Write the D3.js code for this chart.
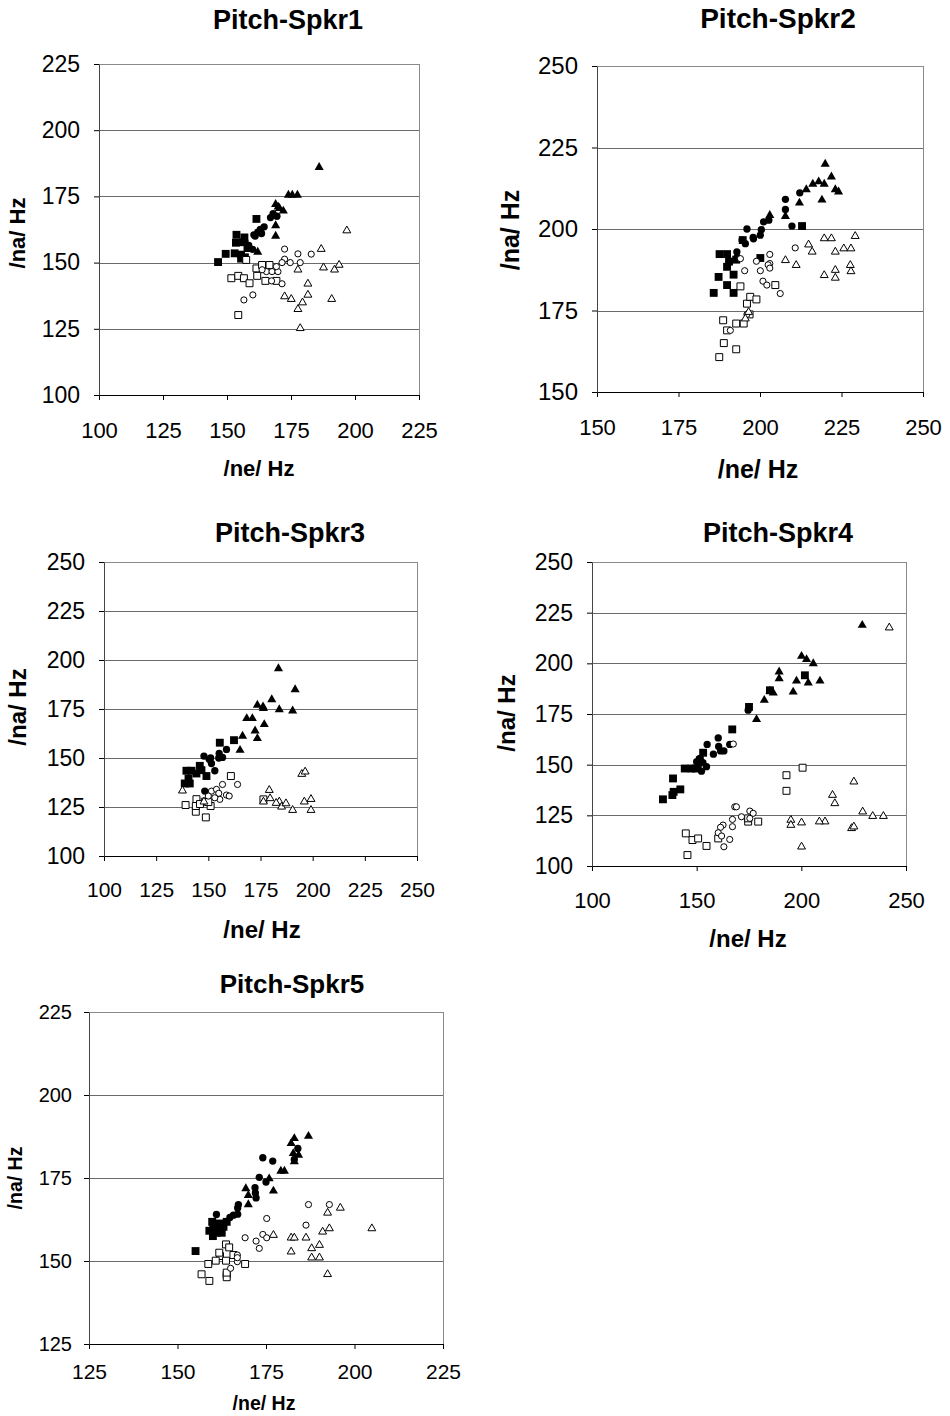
<!DOCTYPE html>
<html><head><meta charset="utf-8">
<script src="https://cdn.jsdelivr.net/npm/d3@7"></script>
<style>
body{margin:0;background:#fff}
svg{display:block}
text{font-family:"Liberation Sans",Arial,sans-serif;fill:#000}
</style>
</head><body>
<svg id="c" width="950" height="1416"></svg>
<script>
// ---------- text ----------
const titles = ["Pitch-Spkr1","Pitch-Spkr2","Pitch-Spkr3","Pitch-Spkr4","Pitch-Spkr5"];
const xTitle = "/ne/ Hz";
const yTitle = "/na/ Hz";

// ---------- axis domains & ticks ----------
const xTicks1 = [100,125,150,175,200,225], yTicks1 = [100,125,150,175,200,225];
const xTicks2 = [150,175,200,225,250],     yTicks2 = [150,175,200,225,250];
const xTicks3 = [100,125,150,175,200,225,250], yTicks3 = [100,125,150,175,200,225,250];
const xTicks4 = [100,150,200,250],         yTicks4 = [100,125,150,175,200,225,250];
const xTicks5 = [125,150,175,200,225],     yTicks5 = [125,150,175,200,225];

// ---------- data: [ne Hz, na Hz] ----------
// series order: filled square, filled circle, filled triangle, open square, open circle, open triangle
const s1FSq = [[146.5,150.2],[149.5,153.3],[153,153.5],[153.5,157.5],[153.7,160.5],[155.5,153],[156.3,157.7],[156.8,159.5],[155.5,151.5],[158,155.5],[161.5,166.5],[157,152]];
const s1FCi = [[158.5,156.5],[160,155],[160.5,160.5],[162,161.5],[163,162.5],[164.5,163.5],[163.5,161],[167,167],[168,168.5],[169.5,167.5],[157,158],[161,160]];
const s1FTr = [[162,154],[169,160],[169,164],[169,172],[170.5,170.5],[172,169.5],[174,175.5],[175.5,175.5],[177.5,175.5],[186,186],[170,171]];
const s1OSq = [[151.7,144.1],[154.4,145],[156.6,144.1],[158.8,142.2],[157.5,151],[161.5,147.8],[161.8,145],[163.7,149.1],[166.6,149.1],[165,143.1],[169.3,143.1],[154.4,130.2]];
const s1OCi = [[156.6,135.9],[160.1,137.8],[172.5,155.1],[172.5,151.3],[174.7,150],[177.7,153.3],[178.6,150],[182.9,153.2],[171.5,150],[165.4,146.6],[167.6,146.6],[169.9,146.6],[167.4,143.1],[169.3,148.5],[171.5,142],[163.7,147.3]];
const s1OTr = [[186.8,155.1],[196.8,162.1],[187.7,148.1],[192,147.3],[193.8,149.1],[177.7,147.3],[181.6,142],[181.6,137.8],[172.5,137.2],[175.1,136.2],[179.5,134.9],[177.7,132.4],[190.9,136.2],[178.6,125.2]];

const s2FSq = [[185.8,180.4],[187.3,185.3],[187.6,192.3],[189.9,192.3],[189.9,182.8],[191.9,180.4],[191.9,186],[189.9,188.4],[192.7,190.6],[194.7,196.6],[200.1,191.1],[212.9,200.9],[190.5,190]];
const s2FCi = [[192.9,193],[196,200],[197.9,197.4],[200.1,198.1],[200.4,199.8],[201.1,202.2],[202.7,202.7],[207.8,209.1],[207.8,206],[209.8,200.9],[212.2,211.1],[194.5,196.6],[195.5,195.5],[198,197]];
const s2FTr = [[207.8,203.9],[203,204.2],[212.1,208],[214.2,212.1],[216.2,213.8],[218,214.5],[220,219.9],[219.7,213.8],[219,208.9],[221.9,216],[224.1,211.4],[223.1,212.1],[193,192]];
const s2OSq = [[187.5,160.7],[188.9,165],[188.7,172],[189.9,168.9],[192.7,163.1],[192.7,171],[195,171],[194,182.4],[196,177.1],[197,179.2],[198.9,178.4],[196.8,173.8],[204.7,182.8]];
const s2OCi = [[194,190.9],[195.3,187.2],[198.9,190.1],[200.1,187.2],[200.9,184],[202.1,182.8],[203,192.2],[203,189.4],[202.5,189],[203,188],[206.2,180.2],[210.8,194.2],[190.9,168.9],[196,173.8]];
const s2OTr = [[207.8,190.4],[211.1,188.9],[214.9,195.2],[216,193],[219.7,197.1],[221.9,197.1],[219.7,185.8],[223.1,187.4],[223.1,185],[223.1,193],[225.7,194],[227.9,194],[229.2,197.8],[227.7,188.9],[227.9,187],[196.5,174.5],[195.5,172.5]];

const s3FSq = [[155.5,157.8],[162.3,159.1],[139.5,143.5],[141.9,143.5],[138.7,137],[141.1,137],[145.9,146],[146.7,143.8],[149.1,140.8],[144.3,142.1],[140.5,139.5]];
const s3FCi = [[147.9,151],[151.1,150.1],[151.5,147.2],[153.1,143.5],[155.2,152.3],[156.8,150.3],[158.7,154.4],[148.3,133.1],[150.4,149.3],[155,150]];
const s3FTr = [[183.6,195.6],[191.6,184.9],[180.4,179.8],[173.5,177],[176.4,175.3],[184,174.7],[190.4,174.1],[168.4,170.2],[171.1,170.2],[172.4,163.9],[176.8,167.1],[173.5,160],[166.4,161.2],[165.2,154],[176.2,176.2]];
const s3OSq = [[139.1,126],[144.3,129],[144,122.6],[144,125.5],[148.8,119.7],[148.3,127.7],[151.1,125.5],[160.8,140.8],[176.4,128.9],[146,126.5],[150,127.5]];
const s3OCi = [[151.5,133.1],[153.9,134],[156.8,136.5],[164,136.5],[155.5,128.9],[158.7,131.1],[160,130.6],[155,132],[153.1,129.7],[150,130.6]];
const s3OTr = [[137.6,133.3],[179.2,133.6],[176.4,127.7],[179.6,129.4],[184,127.7],[185.1,125.1],[187.2,126.8],[190.4,123.4],[194.8,141.8],[196.4,143],[196,127.7],[199.2,129],[199.2,123.4],[182.5,127],[147.9,127.7]];

const s4FSq = [[133.9,132.9],[138.4,135],[138.7,143.2],[139,136.6],[142.2,137.8],[144.3,148.1],[147.5,148.1],[153.1,155.9],[167,167.4],[175,178.5],[185,186.7],[201.7,194.1],[149.5,148.1],[151.5,152.2]];
const s4FCi = [[155,160],[160.3,163.2],[158,155.2],[161.4,156.8],[163,156.8],[165.8,160],[151.5,153.1],[150.7,149.3],[152.3,146.8],[154.7,149],[174.6,176.9],[153,151],[160.5,159],[150,151.5]];
const s4FTr = [[229.1,218.8],[200.1,203.5],[202.5,201.9],[205.7,199.9],[189.4,195.8],[189.4,192.5],[197.7,191.3],[203.3,190.4],[208.9,191.3],[196.1,185.9],[186.6,185.4],[182.3,181.8],[178.6,172.3],[185,186.4]];
const s4OSq = [[144.8,116.1],[148,112.8],[150.7,113.6],[154.7,109.9],[145.6,105.4],[160.3,113.6],[174.6,121.9],[179.4,121.9],[192.9,144.8],[192.9,137.1],[200.6,148.5],[174.6,123.5]];
const s4OCi = [[168.2,129.2],[169,129.2],[171.4,124.3],[175.4,127.1],[177,126],[167.1,123],[167.1,119.4],[162.6,120.2],[161.4,119.1],[160.3,116.4],[161.9,114.8],[165.8,113.1],[163,109.5],[175.4,123.5],[167.5,160.2]];
const s4OTr = [[242,217.6],[225.1,141.6],[214.9,135],[216,130.9],[229.3,126.8],[234.1,124.6],[239.2,124.6],[211.3,121.9],[208.6,121.9],[200.1,121.4],[195,122.7],[195,120.2],[200.1,109.5],[224,118.6],[225.1,119.4]];

const s5FSq = [[155.1,153],[159,159.1],[160,157.5],[160.1,160.8],[161,160.3],[162,161.3],[163,160.3],[163.9,161.8],[159.8,161.8],[161,158.5],[162.5,158.5]];
const s5FCi = [[161,164],[164.8,163.1],[167,164.1],[167.2,167],[171.9,172.1],[172.2,169],[173.1,175.2],[174.1,181.1],[175,173.8],[176.9,180.1],[184,183.9],[183,180.6],[165.8,163.8],[172,170.5],[167,166]];
const s5FTr = [[169.3,171.8],[170,169.8],[170,167],[175.9,174.8],[177.1,171.1],[179.2,177.1],[180.2,177.1],[183,186.9],[183,179.9],[182.7,182.4],[182.1,185.4],[187,187.6],[184.2,181.9]];
const s5OSq = [[156.8,146],[159,144],[158.7,149.1],[162,151.5],[161.8,152.5],[163.7,155],[164.6,154.1],[163.9,145.8],[163.9,145.1],[163.9,146.5],[169.1,149.1],[165.8,151.8],[163.7,150.1],[160.8,150.1]];
const s5OCi = [[169.1,157],[172.2,156],[173.1,153.8],[174.1,158],[175.2,157],[175.2,162.8],[186.3,160.8],[187,167],[192.9,167],[166.9,151.8],[166.9,149.8],[165,147.8],[166.9,151]];
const s5OTr = [[177.1,157.8],[182.1,157],[183,157],[186.3,157],[182.1,152.8],[187.9,153.8],[190.1,154.8],[187.9,151],[190.1,151],[191,158.8],[192.9,159.8],[192.4,164.5],[196,166],[204.9,159.8],[192.4,146]];

// ---------- layout (positions / styles) ----------
const panels = [
  {L:99, T:64, R:419, B:395, xt:xTicks1, yt:yTicks1, series:[s1FSq,s1FCi,s1FTr,s1OSq,s1OCi,s1OTr],
   title:{x:288,y:29,fs:27}, xtfs:22, ytfs:23, xLabCy:430, yLabR:80,
   xTit:{x:259,y:476,fs:22}, yTit:{x:25,y:233,fs:22}},
  {L:597, T:66, R:923, B:392, xt:xTicks2, yt:yTicks2, series:[s2FSq,s2FCi,s2FTr,s2OSq,s2OCi,s2OTr],
   title:{x:778,y:28,fs:28}, xtfs:22, ytfs:24, xLabCy:427, yLabR:578,
   xTit:{x:758,y:478,fs:25}, yTit:{x:519,y:230,fs:25}},
  {L:104, T:562, R:417, B:856, xt:xTicks3, yt:yTicks3, series:[s3FSq,s3FCi,s3FTr,s3OSq,s3OCi,s3OTr],
   title:{x:290,y:542,fs:27}, xtfs:21, ytfs:23, xLabCy:890, yLabR:85,
   xTit:{x:262,y:938,fs:24}, yTit:{x:26,y:707,fs:24}},
  {L:592, T:562, R:906, B:866, xt:xTicks4, yt:yTicks4, series:[s4FSq,s4FCi,s4FTr,s4OSq,s4OCi,s4OTr],
   title:{x:778,y:542,fs:27}, xtfs:22, ytfs:23, xLabCy:900, yLabR:573,
   xTit:{x:748,y:947,fs:24}, yTit:{x:515,y:713,fs:24}},
  {L:89, T:1012, R:443, B:1344, xt:xTicks5, yt:yTicks5, series:[s5FSq,s5FCi,s5FTr,s5OSq,s5OCi,s5OTr],
   title:{x:292,y:993,fs:26}, xtfs:21, ytfs:20, xLabCy:1372, yLabR:72,
   xTit:{x:264,y:1410,fs:19.5}, yTit:{x:22,y:1178,fs:19.5}}
];

const markerStyles = [
  {type:d3.symbolSquare,   size:62, fill:"#000", stroke:"none"},
  {type:d3.symbolCircle,   size:42, fill:"#000", stroke:"none"},
  {type:d3.symbolTriangle, size:36, fill:"#000", stroke:"none"},
  {type:d3.symbolSquare,   size:48, fill:"#fff", stroke:"#000"},
  {type:d3.symbolCircle,   size:30, fill:"#fff", stroke:"#000"},
  {type:d3.symbolTriangle, size:27, fill:"#fff", stroke:"#000"}
];

const svg = d3.select("#c");

panels.forEach((p, i) => {
  const g = svg.append("g");
  const x = d3.scaleLinear().domain(d3.extent(p.xt)).range([p.L, p.R]);
  const y = d3.scaleLinear().domain(d3.extent(p.yt)).range([p.B, p.T]);
  const tick = 5;

  // plot border
  g.append("rect").attr("x", p.L).attr("y", p.T).attr("width", p.R - p.L).attr("height", p.B - p.T)
    .attr("fill", "none").attr("stroke", "#8a8a8a").attr("stroke-width", 1).attr("shape-rendering","crispEdges");

  // gridlines
  const [y0, y1] = y.domain();
  g.selectAll("line.grid").data(p.yt.filter(v => v > y0 && v < y1)).join("line")
    .attr("x1", p.L).attr("x2", p.R)
    .attr("y1", d => Math.round(y(d)) + 0.5).attr("y2", d => Math.round(y(d)) + 0.5)
    .attr("stroke", "#6a6a6a").attr("stroke-width", 1);

  // axes
  const xPad = p.xLabCy - p.B - tick - 0.36 * p.xtfs;
  const xa = g.append("g").attr("transform", `translate(0,${p.B})`)
    .call(d3.axisBottom(x).tickValues(p.xt).tickSize(tick).tickPadding(xPad).tickSizeOuter(0).tickFormat(d3.format("d")));
  xa.select(".domain").attr("stroke", "#000");
  xa.selectAll(".tick line").attr("stroke", "#000");
  xa.selectAll("text").attr("font-size", p.xtfs).style("font-family", '"Liberation Sans",Arial,sans-serif');

  const ya = g.append("g").attr("transform", `translate(${p.L},0)`)
    .call(d3.axisLeft(y).tickValues(p.yt).tickSize(tick).tickPadding(p.L - p.yLabR - tick).tickSizeOuter(0).tickFormat(d3.format("d")));
  ya.select(".domain").attr("stroke", "#444");
  ya.selectAll(".tick line").attr("stroke", "#000");
  ya.selectAll("text").attr("font-size", p.ytfs).style("font-family", '"Liberation Sans",Arial,sans-serif');

  // markers
  p.series.forEach((data, si) => {
    const ms = markerStyles[si];
    const sym = d3.symbol().type(ms.type).size(ms.size);
    g.append("g").selectAll("path").data(data).join("path")
      .attr("d", sym)
      .attr("transform", d => `translate(${x(d[0])},${y(d[1])})`)
      .attr("fill", ms.fill).attr("stroke", ms.stroke).attr("stroke-width", 1);
  });

  // titles
  g.append("text").attr("x", p.title.x).attr("y", p.title.y).attr("text-anchor", "middle")
    .attr("font-weight", "bold").attr("font-size", p.title.fs).text(titles[i]);
  g.append("text").attr("x", p.xTit.x).attr("y", p.xTit.y).attr("text-anchor", "middle")
    .attr("font-weight", "bold").attr("font-size", p.xTit.fs).text(xTitle);
  g.append("text").attr("transform", `translate(${p.yTit.x},${p.yTit.y}) rotate(-90)`).attr("text-anchor", "middle")
    .attr("font-weight", "bold").attr("font-size", p.yTit.fs).text(yTitle);
});
</script>
</body></html>
